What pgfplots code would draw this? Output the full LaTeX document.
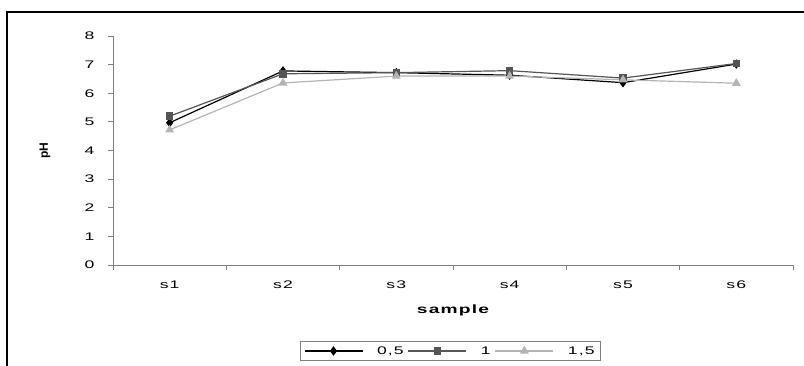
\documentclass[border=0pt]{standalone}
\usepackage{fontspec}
\setmainfont{Liberation Sans}[FakeStretch=1.6, LetterSpace=10]
\newfontfamily\plainsans{Liberation Sans}
\usepackage{pgfplots}
\pgfplotsset{compat=1.18}
\usetikzlibrary{calc}
\definecolor{sdark}{HTML}{555555}
\definecolor{slight}{HTML}{B4B4B4}
\definecolor{axgray}{HTML}{808080}
\begin{document}
\begin{tikzpicture}
\begin{axis}[
  scale only axis,
  width=680pt, height=229pt,
  xmin=0.5, xmax=6.5, ymin=0, ymax=8,
  axis x line=bottom, axis y line=left,
  axis line style={-, axgray, line width=0.8pt},
  ytick={0,...,8},
  xtick={0.5,1.5,...,6.5},
  xticklabels={s1,s2,s3,s4,s5,s6},
  x tick label as interval,
  tick align=outside,
  major tick length=5pt,
  tick style={axgray, line width=0.8pt},
  /pgf/number format/assume math mode=true,
  tick label style={font=\fontsize{11}{13}\selectfont},
  yticklabel style={xshift=-10pt},
  xticklabel style={yshift=-7pt},
  ylabel={pH},
  ylabel style={font=\plainsans\bfseries\fontsize{12}{14}\selectfont, at={(axis description cs:-0.1,0.5)}, anchor=center},
  xlabel={sample},
  xlabel style={font=\bfseries\fontsize{12}{14}\selectfont, at={(axis description cs:0.5,-0.197)}, anchor=center},
  legend columns=3,
  legend style={at={(0.496,-0.3755)}, anchor=center, draw=axgray, line width=0.8pt,
    font=\fontsize{11}{13}\selectfont, inner xsep=4pt, inner ysep=3pt,
    /tikz/every even column/.append style={column sep=2pt},
    /tikz/every odd column/.append style={column sep=12pt}},
  legend image code/.code={\draw[mark repeat=2,mark phase=2] plot coordinates {(0pt,0pt) (29pt,0pt) (58pt,0pt)};},
]
\coordinate (O) at (rel axis cs:0,0);
\addplot[black, line width=1.2pt, mark=diamond*, mark size=3.8pt, mark options={solid}]
  coordinates {(1,4.97) (2,6.78) (3,6.72) (4,6.63) (5,6.37) (6,7.02)};
\addlegendentry{0,5}
\addplot[sdark, line width=1.2pt, mark=square*, mark size=3.2pt]
  coordinates {(1,5.2) (2,6.68) (3,6.72) (4,6.79) (5,6.53) (6,7.04)};
\addlegendentry{1}
\addplot[slight, line width=1.2pt, mark=triangle*, mark size=4pt]
  coordinates {(1,4.72) (2,6.36) (3,6.6) (4,6.6) (5,6.47) (6,6.35)};
\addlegendentry{1,5}
\end{axis}
\draw[line width=1.8pt] ($(O)+(-106pt,-110pt)$) -- ($(O)+(-106pt,253pt)$) -- ($(O)+(700pt,253pt)$);
\pgfresetboundingbox
\path[use as bounding box] ($(O)+(-113pt,-100pt)$) rectangle ($(O)+(691pt,265pt)$);
\end{tikzpicture}
\end{document}
